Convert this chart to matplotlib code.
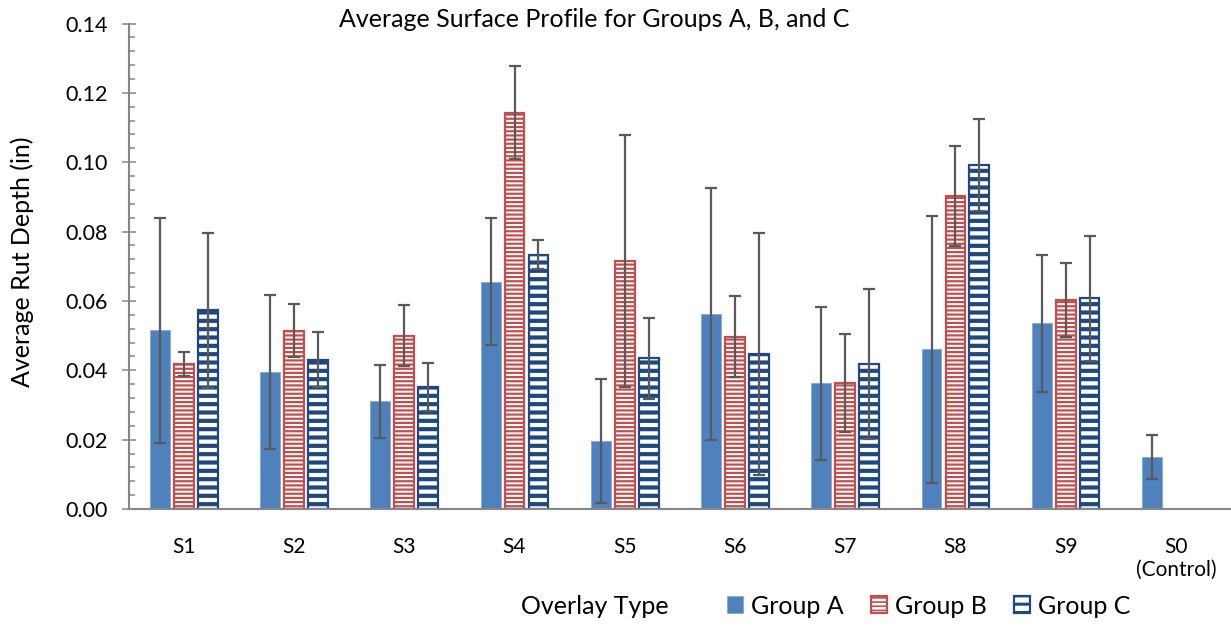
import numpy as np
import matplotlib
matplotlib.use('Agg')
from matplotlib import pyplot as plt
from matplotlib.patches import Patch
from matplotlib.ticker import MultipleLocator, FormatStrFormatter

plt.rcParams['font.family'] = ['Lato', 'DejaVu Sans']

categories = ['S1', 'S2', 'S3', 'S4', 'S5', 'S6', 'S7', 'S8', 'S9', 'S0\n(Control)']

# mean rut depth (in) and std dev
group_a = [0.0515, 0.0395, 0.0310, 0.0656, 0.0196, 0.0563, 0.0362, 0.0460, 0.0535, 0.0149]
group_a_sd = [0.0324, 0.0223, 0.0104, 0.0184, 0.0178, 0.0364, 0.0221, 0.0385, 0.0197, 0.0063]
group_b = [0.0418, 0.0514, 0.0499, 0.1143, 0.0715, 0.0497, 0.0364, 0.0903, 0.0603]
group_b_sd = [0.0034, 0.0077, 0.0088, 0.0134, 0.0363, 0.0116, 0.0142, 0.0144, 0.0107]
group_c = [0.0573, 0.0431, 0.0352, 0.0733, 0.0434, 0.0447, 0.0417, 0.0992, 0.0608]
group_c_sd = [0.0224, 0.0080, 0.0069, 0.0042, 0.0118, 0.0350, 0.0216, 0.0133, 0.0180]

blue = '#4F81BD'
red = '#C0504D'
navy = '#1F497D'
grey = '#868686'
err_col = '#595959'

W, H = 1231, 626
fig = plt.figure(figsize=(W/100, H/100), dpi=100)
ax = fig.add_axes([128.7/W, 1-509/H, 1-128.7/W, (509-23.5)/H])

x = np.arange(len(categories))
bw = 0.18
off = 0.217
ekw = dict(fmt='none', ecolor=err_col, elinewidth=1.6, capsize=4.5, capthick=1.6, zorder=4)

ax.bar(x[:len(group_a)] - off, group_a, bw, color=blue, edgecolor='#7FA3D0', linewidth=0.5, zorder=2)
ax.errorbar(x[:len(group_a)] - off, group_a, yerr=group_a_sd, **ekw)
h_a = Patch(facecolor=blue, edgecolor='#7FA3D0', linewidth=0.5, label='Group A')

# hatch line width is taken per patch when it is created
plt.rcParams['hatch.linewidth'] = 1.6
xb = x[:len(group_b)]
ax.bar(xb, group_b, bw, color='white', edgecolor=red, linewidth=1.6, hatch='----', zorder=2)
ax.errorbar(xb, group_b, yerr=group_b_sd, **ekw)
h_b = Patch(facecolor='white', edgecolor=red, linewidth=1.6, hatch='----', label='Group B')

plt.rcParams['hatch.linewidth'] = 3.0
xc = x[:len(group_c)] + off
ax.bar(xc, group_c, bw, color='white', edgecolor=navy, linewidth=1.6, hatch='--', zorder=2)
ax.errorbar(xc, group_c, yerr=group_c_sd, **ekw)
h_c = Patch(facecolor='white', edgecolor=navy, linewidth=1.6, hatch='--', label='Group C')

ax.set_xlim(-0.5, len(categories) - 0.5)
ax.set_ylim(0, 0.14)
ax.yaxis.set_major_locator(MultipleLocator(0.02))
ax.yaxis.set_minor_locator(MultipleLocator(0.004))
ax.yaxis.set_major_formatter(FormatStrFormatter('%.2f'))
ax.set_xticks(x)
ax.set_xticklabels(categories, fontsize=15)

for s in ['top', 'right']:
    ax.spines[s].set_visible(False)
for s in ['left', 'bottom']:
    ax.spines[s].set_color(grey)
    ax.spines[s].set_linewidth(1.5)

ax.tick_params(axis='y', which='major', direction='inout', length=9.5, width=1.1,
               color=grey, labelsize=15.5, pad=10)
ax.tick_params(axis='y', which='minor', direction='in', length=4.3, width=1.1, color=grey)
ax.tick_params(axis='x', length=0, pad=20)

fig.text(594/W, 1-27/H, 'Average Surface Profile for Groups A, B, and C',
         fontsize=18, ha='center', va='baseline')
fig.text(22/W, 1-262/H, 'Average Rut Depth (in)', fontsize=18, rotation=90,
         ha='center', va='center')
fig.text(595/W, 1-606/H, 'Overlay Type', fontsize=18, ha='center', va='center')

leg = fig.legend(handles=[h_a, h_b, h_c], loc='center left', bbox_to_anchor=(727/W, 1-606/H),
                 ncol=3, frameon=False, fontsize=18, handlelength=0.65, handleheight=0.65,
                 handletextpad=0.3, columnspacing=1.1, borderpad=0, borderaxespad=0)
# legend copies don't keep the hatch width, put it back
for hnd, hlw in zip(leg.legend_handles, [1.6, 1.2, 2.2]):
    if hasattr(hnd, 'set_hatch_linewidth'):
        hnd.set_hatch_linewidth(hlw)
    else:
        hnd._hatch_linewidth = hlw

fig.savefig('out.png', dpi=100)
